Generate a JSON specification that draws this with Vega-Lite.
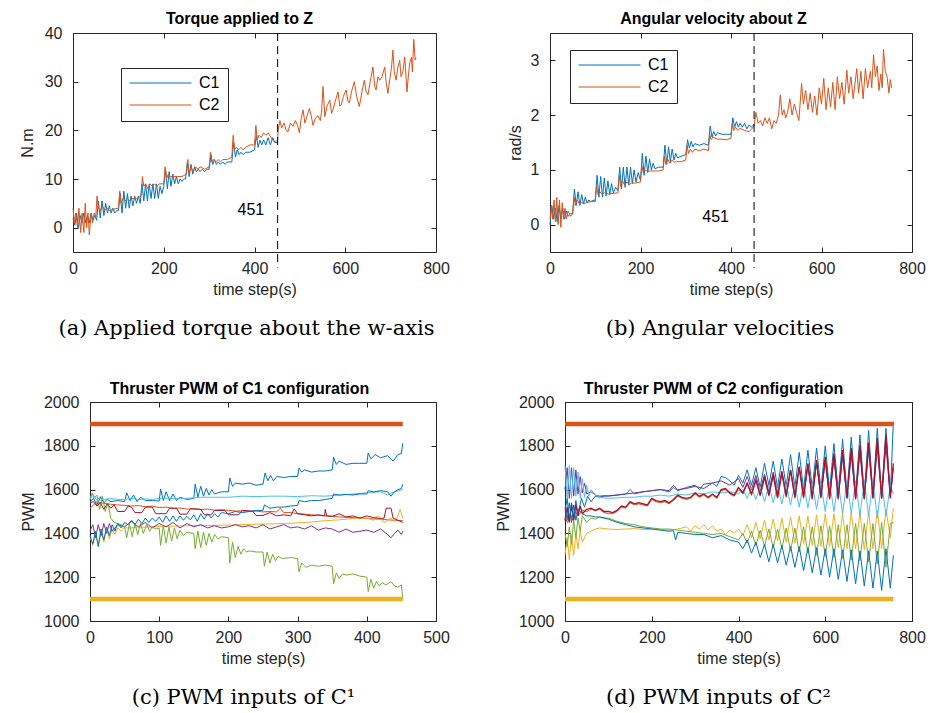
{
"$schema": "https://vega.github.io/schema/vega-lite/v6.json",
"background": "white",
"padding": {"left": 19, "top": 10, "right": 2, "bottom": 2},
"config": {
  "font": "Liberation Sans",
  "view": {"stroke": null},
  "axis": {"labelFont": "Liberation Sans", "labelFontSize": 16, "labelColor": "#262626", "titleFont": "Liberation Sans", "titleFontSize": 16, "titleFontWeight": "normal", "titleColor": "#262626", "domainColor": "#262626", "tickColor": "#262626", "tickSize": -5, "grid": false, "labelFlush": false, "labelOverlap": false},
  "axisX": {"labelPadding": 13, "titlePadding": 5},
  "axisY": {"labelPadding": 16, "titlePadding": 7},
  "title": {"font": "DejaVu Serif", "fontSize": 21, "fontWeight": "normal", "color": "black"}
},
"datasets": {
"a1": [{"t":0,"y":2},{"t":4,"y":0.5},{"t":8,"y":3},{"t":12,"y":0},{"t":16,"y":2.5},{"t":20,"y":1},{"t":24,"y":3},{"t":28,"y":1},{"t":32,"y":2.5},{"t":36,"y":1},{"t":40,"y":3},{"t":44,"y":1.5},{"t":48,"y":2.5},{"t":52,"y":1.5},{"t":56,"y":5.5},{"t":60,"y":2},{"t":64,"y":5.5},{"t":68,"y":2.5},{"t":72,"y":5},{"t":76,"y":3},{"t":80,"y":4.5},{"t":84,"y":3},{"t":88,"y":4},{"t":92,"y":3},{"t":96,"y":3.5},{"t":100,"y":3.5},{"t":104,"y":7},{"t":108,"y":3},{"t":112,"y":7.5},{"t":116,"y":4},{"t":120,"y":7},{"t":124,"y":4},{"t":128,"y":6.5},{"t":132,"y":4.5},{"t":136,"y":6.5},{"t":140,"y":5},{"t":144,"y":6.5},{"t":148,"y":5},{"t":152,"y":9},{"t":156,"y":5.5},{"t":160,"y":9},{"t":164,"y":5.5},{"t":168,"y":9},{"t":172,"y":6},{"t":176,"y":9},{"t":180,"y":6},{"t":184,"y":9},{"t":188,"y":6},{"t":192,"y":8.5},{"t":196,"y":7},{"t":200,"y":8.5},{"t":204,"y":12},{"t":208,"y":8},{"t":212,"y":11.5},{"t":216,"y":8.5},{"t":220,"y":11},{"t":224,"y":9},{"t":228,"y":10.5},{"t":232,"y":9},{"t":236,"y":10},{"t":240,"y":9.5},{"t":244,"y":10},{"t":248,"y":10},{"t":252,"y":13.5},{"t":256,"y":10.5},{"t":260,"y":13},{"t":264,"y":11},{"t":268,"y":12.5},{"t":272,"y":11.5},{"t":276,"y":12},{"t":280,"y":11.5},{"t":285,"y":12},{"t":290,"y":11.5},{"t":295,"y":12},{"t":300,"y":12},{"t":304,"y":15},{"t":308,"y":13},{"t":312,"y":14},{"t":316,"y":13},{"t":320,"y":13.5},{"t":325,"y":13},{"t":330,"y":13.5},{"t":335,"y":13},{"t":340,"y":13.5},{"t":350,"y":13.5},{"t":354,"y":17.5},{"t":358,"y":14.5},{"t":362,"y":16},{"t":366,"y":15},{"t":370,"y":15.5},{"t":375,"y":15},{"t":380,"y":15.5},{"t":390,"y":15.5},{"t":400,"y":16},{"t":404,"y":19},{"t":408,"y":16.5},{"t":412,"y":18},{"t":416,"y":17},{"t":420,"y":18},{"t":425,"y":17},{"t":430,"y":18.5},{"t":435,"y":17},{"t":440,"y":18.5},{"t":445,"y":17.5},{"t":451,"y":17.5}],
"a2": [{"t":0,"y":4},{"t":3,"y":1},{"t":6,"y":3},{"t":10,"y":0},{"t":13,"y":4},{"t":17,"y":-1},{"t":20,"y":3},{"t":24,"y":-1},{"t":27,"y":5},{"t":30,"y":0},{"t":33,"y":3},{"t":36,"y":-1.5},{"t":40,"y":3},{"t":43,"y":1},{"t":47,"y":3},{"t":50,"y":2},{"t":53,"y":6.5},{"t":56,"y":4},{"t":60,"y":3.5},{"t":65,"y":4.5},{"t":70,"y":3.5},{"t":75,"y":4},{"t":80,"y":3.5},{"t":90,"y":3.8},{"t":100,"y":4},{"t":103,"y":7.5},{"t":106,"y":5},{"t":110,"y":6},{"t":115,"y":5.5},{"t":120,"y":6},{"t":125,"y":5.5},{"t":130,"y":6},{"t":140,"y":6},{"t":150,"y":6.5},{"t":153,"y":10.5},{"t":156,"y":8.5},{"t":160,"y":9},{"t":165,"y":8},{"t":170,"y":9},{"t":175,"y":8.5},{"t":180,"y":9},{"t":185,"y":8.5},{"t":190,"y":9},{"t":200,"y":9},{"t":203,"y":12.5},{"t":206,"y":10},{"t":210,"y":11},{"t":215,"y":10.5},{"t":220,"y":10.5},{"t":230,"y":10.5},{"t":240,"y":10.5},{"t":250,"y":11},{"t":253,"y":14},{"t":256,"y":11},{"t":260,"y":12.5},{"t":265,"y":11.5},{"t":270,"y":12.5},{"t":275,"y":12},{"t":280,"y":12.5},{"t":290,"y":12},{"t":300,"y":12.5},{"t":303,"y":15.5},{"t":306,"y":13.5},{"t":310,"y":14},{"t":315,"y":13.5},{"t":320,"y":14},{"t":325,"y":13.5},{"t":330,"y":14},{"t":340,"y":14},{"t":350,"y":14.5},{"t":353,"y":19},{"t":356,"y":16},{"t":360,"y":16.5},{"t":365,"y":16},{"t":370,"y":16.5},{"t":375,"y":16},{"t":380,"y":16.5},{"t":390,"y":17},{"t":400,"y":17},{"t":403,"y":21},{"t":406,"y":18},{"t":410,"y":19},{"t":415,"y":18.5},{"t":420,"y":19.5},{"t":425,"y":19},{"t":430,"y":19.5},{"t":440,"y":18},{"t":445,"y":17.5},{"t":451,"y":18},{"t":452,"y":20},{"t":456,"y":22},{"t":460,"y":20.5},{"t":465,"y":21.5},{"t":470,"y":20},{"t":474,"y":19.7},{"t":479,"y":21.5},{"t":485,"y":20.8},{"t":490,"y":22},{"t":495,"y":21},{"t":499,"y":19.5},{"t":503,"y":22.5},{"t":507,"y":24.2},{"t":511,"y":21.5},{"t":516,"y":23},{"t":521,"y":24.5},{"t":525,"y":23},{"t":529,"y":21},{"t":534,"y":22.5},{"t":540,"y":23},{"t":545,"y":22},{"t":548,"y":24},{"t":551,"y":29},{"t":555,"y":22.8},{"t":560,"y":25},{"t":566,"y":26.2},{"t":570,"y":23.5},{"t":573,"y":24.2},{"t":578,"y":26},{"t":584,"y":27.9},{"t":588,"y":25},{"t":591,"y":25.2},{"t":596,"y":27},{"t":602,"y":28.3},{"t":606,"y":26},{"t":609,"y":25.6},{"t":614,"y":28},{"t":620,"y":30},{"t":625,"y":27},{"t":631,"y":24.9},{"t":637,"y":28},{"t":642,"y":30.3},{"t":646,"y":28},{"t":650,"y":27.3},{"t":655,"y":30},{"t":661,"y":33},{"t":665,"y":29},{"t":668,"y":28.3},{"t":672,"y":31},{"t":676,"y":30.3},{"t":681,"y":31},{"t":687,"y":33},{"t":690,"y":30},{"t":694,"y":27.6},{"t":699,"y":31},{"t":702,"y":33},{"t":705,"y":36.5},{"t":708,"y":32},{"t":712,"y":30.3},{"t":716,"y":33},{"t":720,"y":34.4},{"t":723,"y":31},{"t":727,"y":32},{"t":731,"y":35.1},{"t":734,"y":31},{"t":736,"y":27.9},{"t":739,"y":31},{"t":742,"y":33.8},{"t":746,"y":35},{"t":748,"y":32},{"t":751,"y":38.7},{"t":754,"y":34.5},{"t":756,"y":35}],
"av": [{"t":451,"y":40,"y2":-8.2}],
"b1": [{"t":0,"y":0},{"t":4,"y":0.35},{"t":8,"y":0.1},{"t":12,"y":0.3},{"t":16,"y":0.05},{"t":20,"y":0.35},{"t":24,"y":0.1},{"t":28,"y":0.3},{"t":32,"y":0.1},{"t":36,"y":0.25},{"t":40,"y":0.15},{"t":45,"y":0.2},{"t":50,"y":0.2},{"t":54,"y":0.65},{"t":58,"y":0.35},{"t":62,"y":0.6},{"t":66,"y":0.35},{"t":70,"y":0.55},{"t":74,"y":0.38},{"t":78,"y":0.5},{"t":82,"y":0.4},{"t":86,"y":0.45},{"t":90,"y":0.42},{"t":95,"y":0.44},{"t":100,"y":0.45},{"t":104,"y":0.9},{"t":108,"y":0.5},{"t":112,"y":0.88},{"t":116,"y":0.5},{"t":120,"y":0.85},{"t":124,"y":0.52},{"t":128,"y":0.8},{"t":132,"y":0.55},{"t":136,"y":0.75},{"t":140,"y":0.58},{"t":145,"y":0.68},{"t":150,"y":0.62},{"t":154,"y":1.05},{"t":158,"y":0.65},{"t":162,"y":1.05},{"t":166,"y":0.68},{"t":170,"y":1.05},{"t":174,"y":0.72},{"t":178,"y":1.05},{"t":182,"y":0.75},{"t":186,"y":1.0},{"t":190,"y":0.78},{"t":195,"y":0.95},{"t":200,"y":0.8},{"t":204,"y":1.3},{"t":208,"y":0.9},{"t":212,"y":1.25},{"t":216,"y":0.95},{"t":220,"y":1.2},{"t":224,"y":1.0},{"t":228,"y":1.12},{"t":232,"y":1.02},{"t":240,"y":1.05},{"t":250,"y":1.05},{"t":254,"y":1.45},{"t":258,"y":1.1},{"t":262,"y":1.42},{"t":266,"y":1.15},{"t":270,"y":1.38},{"t":274,"y":1.18},{"t":278,"y":1.3},{"t":282,"y":1.22},{"t":290,"y":1.25},{"t":300,"y":1.28},{"t":304,"y":1.55},{"t":308,"y":1.4},{"t":312,"y":1.52},{"t":316,"y":1.42},{"t":320,"y":1.48},{"t":330,"y":1.45},{"t":340,"y":1.48},{"t":350,"y":1.45},{"t":354,"y":1.8},{"t":358,"y":1.6},{"t":362,"y":1.7},{"t":366,"y":1.62},{"t":370,"y":1.68},{"t":380,"y":1.65},{"t":390,"y":1.65},{"t":400,"y":1.65},{"t":404,"y":1.95},{"t":408,"y":1.78},{"t":412,"y":1.88},{"t":416,"y":1.78},{"t":420,"y":1.85},{"t":425,"y":1.78},{"t":430,"y":1.85},{"t":435,"y":1.75},{"t":440,"y":1.82},{"t":445,"y":1.78},{"t":451,"y":1.83}],
"b2": [{"t":0,"y":0.1},{"t":3,"y":0.35},{"t":6,"y":0.1},{"t":9,"y":0.45},{"t":12,"y":0.05},{"t":15,"y":0.5},{"t":18,"y":0},{"t":21,"y":0.45},{"t":24,"y":-0.05},{"t":27,"y":0.4},{"t":30,"y":0.1},{"t":33,"y":0.3},{"t":36,"y":0.1},{"t":40,"y":0.25},{"t":45,"y":0.15},{"t":50,"y":0.2},{"t":53,"y":0.5},{"t":56,"y":0.35},{"t":60,"y":0.45},{"t":65,"y":0.38},{"t":70,"y":0.4},{"t":75,"y":0.38},{"t":80,"y":0.4},{"t":90,"y":0.42},{"t":100,"y":0.42},{"t":103,"y":0.7},{"t":106,"y":0.55},{"t":110,"y":0.6},{"t":115,"y":0.56},{"t":120,"y":0.58},{"t":130,"y":0.56},{"t":140,"y":0.57},{"t":150,"y":0.58},{"t":153,"y":0.9},{"t":156,"y":0.7},{"t":160,"y":0.8},{"t":165,"y":0.72},{"t":170,"y":0.78},{"t":175,"y":0.73},{"t":180,"y":0.76},{"t":190,"y":0.76},{"t":200,"y":0.78},{"t":203,"y":1.08},{"t":206,"y":0.95},{"t":210,"y":1.0},{"t":215,"y":0.97},{"t":220,"y":0.98},{"t":230,"y":0.98},{"t":240,"y":0.98},{"t":250,"y":1.0},{"t":253,"y":1.25},{"t":256,"y":1.1},{"t":260,"y":1.2},{"t":265,"y":1.12},{"t":270,"y":1.18},{"t":275,"y":1.14},{"t":280,"y":1.15},{"t":290,"y":1.15},{"t":300,"y":1.18},{"t":303,"y":1.45},{"t":306,"y":1.3},{"t":310,"y":1.38},{"t":315,"y":1.32},{"t":320,"y":1.38},{"t":330,"y":1.35},{"t":340,"y":1.38},{"t":350,"y":1.35},{"t":353,"y":1.65},{"t":356,"y":1.55},{"t":360,"y":1.6},{"t":370,"y":1.56},{"t":380,"y":1.56},{"t":390,"y":1.55},{"t":400,"y":1.58},{"t":403,"y":1.85},{"t":406,"y":1.72},{"t":410,"y":1.78},{"t":415,"y":1.72},{"t":420,"y":1.76},{"t":430,"y":1.72},{"t":440,"y":1.7},{"t":445,"y":1.74},{"t":451,"y":1.8},{"t":455,"y":2.05},{"t":460,"y":1.85},{"t":465,"y":1.9},{"t":470,"y":1.8},{"t":475,"y":1.95},{"t":480,"y":1.85},{"t":485,"y":1.95},{"t":490,"y":1.75},{"t":495,"y":1.9},{"t":500,"y":1.85},{"t":505,"y":2.0},{"t":509,"y":2.37},{"t":513,"y":2.0},{"t":517,"y":2.1},{"t":521,"y":1.95},{"t":525,"y":2.05},{"t":530,"y":2.3},{"t":535,"y":2.0},{"t":540,"y":2.2},{"t":545,"y":2.05},{"t":550,"y":1.9},{"t":556,"y":2.58},{"t":560,"y":2.2},{"t":565,"y":2.45},{"t":570,"y":2.1},{"t":575,"y":2.4},{"t":580,"y":2.05},{"t":585,"y":2.35},{"t":590,"y":2.0},{"t":595,"y":2.5},{"t":600,"y":2.2},{"t":605,"y":2.67},{"t":610,"y":2.1},{"t":615,"y":2.5},{"t":620,"y":2.15},{"t":625,"y":2.6},{"t":630,"y":2.1},{"t":635,"y":2.7},{"t":640,"y":2.3},{"t":645,"y":2.6},{"t":650,"y":2.2},{"t":656,"y":2.82},{"t":660,"y":2.4},{"t":665,"y":2.7},{"t":670,"y":2.3},{"t":678,"y":2.85},{"t":682,"y":2.4},{"t":687,"y":2.8},{"t":692,"y":2.3},{"t":697,"y":2.85},{"t":702,"y":2.5},{"t":708,"y":2.8},{"t":711,"y":2.5},{"t":715,"y":3.1},{"t":719,"y":2.7},{"t":723,"y":2.9},{"t":727,"y":2.45},{"t":731,"y":2.75},{"t":734,"y":2.5},{"t":737,"y":3.2},{"t":741,"y":2.8},{"t":745,"y":2.7},{"t":749,"y":2.4},{"t":752,"y":2.65},{"t":755,"y":2.5}],
"bv": [{"t":451,"y":3.5,"y2":-0.79}],
"c1": [{"t":0,"y":1545},{"t":5,"y":1560},{"t":10,"y":1530},{"t":15,"y":1565},{"t":20,"y":1540},{"t":25,"y":1555},{"t":30,"y":1545},{"t":40,"y":1550},{"t":50,"y":1545},{"t":53,"y":1585},{"t":58,"y":1550},{"t":63,"y":1575},{"t":68,"y":1545},{"t":73,"y":1565},{"t":80,"y":1550},{"t":90,"y":1550},{"t":100,"y":1548},{"t":102,"y":1603},{"t":106,"y":1550},{"t":110,"y":1590},{"t":115,"y":1550},{"t":120,"y":1580},{"t":125,"y":1550},{"t":130,"y":1565},{"t":140,"y":1555},{"t":150,"y":1560},{"t":152,"y":1625},{"t":156,"y":1565},{"t":160,"y":1615},{"t":164,"y":1570},{"t":168,"y":1605},{"t":172,"y":1575},{"t":176,"y":1600},{"t":180,"y":1580},{"t":190,"y":1590},{"t":200,"y":1590},{"t":202,"y":1653},{"t":206,"y":1615},{"t":210,"y":1630},{"t":220,"y":1625},{"t":230,"y":1630},{"t":240,"y":1620},{"t":250,"y":1625},{"t":253,"y":1676},{"t":257,"y":1640},{"t":261,"y":1665},{"t":265,"y":1640},{"t":270,"y":1660},{"t":280,"y":1655},{"t":290,"y":1660},{"t":300,"y":1660},{"t":302,"y":1698},{"t":306,"y":1680},{"t":310,"y":1690},{"t":320,"y":1680},{"t":330,"y":1685},{"t":340,"y":1685},{"t":350,"y":1690},{"t":352,"y":1748},{"t":356,"y":1715},{"t":360,"y":1730},{"t":370,"y":1715},{"t":380,"y":1720},{"t":390,"y":1720},{"t":400,"y":1720},{"t":402,"y":1767},{"t":406,"y":1740},{"t":412,"y":1760},{"t":420,"y":1745},{"t":430,"y":1755},{"t":438,"y":1730},{"t":445,"y":1760},{"t":450,"y":1765},{"t":452,"y":1812}],
"c2": [{"t":0,"y":1515},{"t":5,"y":1530},{"t":10,"y":1545},{"t":20,"y":1537},{"t":30,"y":1533},{"t":40,"y":1530},{"t":50,"y":1528},{"t":60,"y":1525},{"t":70,"y":1527},{"t":80,"y":1522},{"t":90,"y":1524},{"t":100,"y":1518},{"t":110,"y":1520},{"t":120,"y":1514},{"t":130,"y":1516},{"t":140,"y":1511},{"t":150,"y":1513},{"t":160,"y":1509},{"t":170,"y":1511},{"t":180,"y":1506},{"t":190,"y":1508},{"t":200,"y":1505},{"t":210,"y":1502},{"t":220,"y":1503},{"t":230,"y":1500},{"t":240,"y":1502},{"t":250,"y":1498},{"t":260,"y":1500},{"t":270,"y":1498},{"t":275,"y":1515},{"t":280,"y":1495},{"t":290,"y":1495},{"t":300,"y":1490},{"t":310,"y":1488},{"t":320,"y":1485},{"t":330,"y":1482},{"t":340,"y":1480},{"t":350,"y":1478},{"t":360,"y":1475},{"t":370,"y":1474},{"t":380,"y":1472},{"t":390,"y":1470},{"t":400,"y":1468},{"t":410,"y":1466},{"t":420,"y":1465},{"t":430,"y":1462},{"t":440,"y":1460},{"t":452,"y":1458}],
"c3": [{"t":0,"y":1380},{"t":4,"y":1350},{"t":8,"y":1400},{"t":12,"y":1345},{"t":16,"y":1410},{"t":20,"y":1360},{"t":24,"y":1420},{"t":28,"y":1375},{"t":32,"y":1420},{"t":36,"y":1395},{"t":40,"y":1425},{"t":45,"y":1410},{"t":50,"y":1425},{"t":60,"y":1425},{"t":70,"y":1430},{"t":80,"y":1428},{"t":100,"y":1432},{"t":120,"y":1433},{"t":140,"y":1435},{"t":160,"y":1436},{"t":180,"y":1437},{"t":200,"y":1438},{"t":220,"y":1440},{"t":240,"y":1442},{"t":260,"y":1443},{"t":280,"y":1445},{"t":300,"y":1448},{"t":320,"y":1452},{"t":340,"y":1458},{"t":360,"y":1462},{"t":380,"y":1468},{"t":390,"y":1470},{"t":400,"y":1470},{"t":410,"y":1460},{"t":415,"y":1480},{"t":420,"y":1470},{"t":425,"y":1450},{"t":430,"y":1460},{"t":435,"y":1470},{"t":440,"y":1455},{"t":445,"y":1480},{"t":448,"y":1510},{"t":452,"y":1470}],
"c4": [{"t":0,"y":1410},{"t":4,"y":1440},{"t":8,"y":1380},{"t":12,"y":1440},{"t":16,"y":1390},{"t":20,"y":1445},{"t":24,"y":1400},{"t":28,"y":1445},{"t":32,"y":1410},{"t":40,"y":1440},{"t":50,"y":1430},{"t":60,"y":1455},{"t":70,"y":1430},{"t":80,"y":1450},{"t":90,"y":1425},{"t":100,"y":1445},{"t":110,"y":1430},{"t":120,"y":1450},{"t":130,"y":1425},{"t":140,"y":1445},{"t":150,"y":1430},{"t":160,"y":1440},{"t":170,"y":1425},{"t":180,"y":1435},{"t":190,"y":1425},{"t":200,"y":1430},{"t":210,"y":1440},{"t":220,"y":1430},{"t":230,"y":1435},{"t":240,"y":1425},{"t":250,"y":1440},{"t":260,"y":1420},{"t":270,"y":1430},{"t":280,"y":1440},{"t":290,"y":1425},{"t":300,"y":1430},{"t":310,"y":1420},{"t":320,"y":1435},{"t":330,"y":1415},{"t":340,"y":1425},{"t":350,"y":1420},{"t":360,"y":1405},{"t":370,"y":1420},{"t":380,"y":1405},{"t":390,"y":1410},{"t":400,"y":1415},{"t":410,"y":1405},{"t":420,"y":1420},{"t":430,"y":1395},{"t":435,"y":1380},{"t":440,"y":1400},{"t":445,"y":1415},{"t":450,"y":1395},{"t":452,"y":1410}],
"c5": [{"t":0,"y":1555},{"t":3,"y":1585},{"t":6,"y":1560},{"t":10,"y":1575},{"t":14,"y":1510},{"t":18,"y":1570},{"t":22,"y":1500},{"t":26,"y":1540},{"t":30,"y":1470},{"t":35,"y":1450},{"t":40,"y":1445},{"t":45,"y":1440},{"t":50,"y":1430},{"t":53,"y":1380},{"t":57,"y":1445},{"t":61,"y":1385},{"t":65,"y":1445},{"t":69,"y":1395},{"t":73,"y":1445},{"t":77,"y":1400},{"t":82,"y":1440},{"t":86,"y":1410},{"t":90,"y":1430},{"t":95,"y":1420},{"t":100,"y":1425},{"t":102,"y":1345},{"t":106,"y":1435},{"t":110,"y":1355},{"t":114,"y":1430},{"t":118,"y":1365},{"t":122,"y":1425},{"t":126,"y":1375},{"t":130,"y":1415},{"t":135,"y":1390},{"t":140,"y":1405},{"t":150,"y":1400},{"t":152,"y":1330},{"t":156,"y":1410},{"t":160,"y":1335},{"t":164,"y":1405},{"t":168,"y":1345},{"t":172,"y":1400},{"t":176,"y":1360},{"t":180,"y":1395},{"t":185,"y":1375},{"t":190,"y":1385},{"t":200,"y":1380},{"t":202,"y":1265},{"t":206,"y":1360},{"t":210,"y":1290},{"t":214,"y":1340},{"t":218,"y":1305},{"t":222,"y":1330},{"t":226,"y":1315},{"t":230,"y":1320},{"t":240,"y":1315},{"t":250,"y":1315},{"t":252,"y":1250},{"t":256,"y":1315},{"t":260,"y":1265},{"t":264,"y":1305},{"t":268,"y":1275},{"t":272,"y":1295},{"t":278,"y":1285},{"t":290,"y":1290},{"t":300,"y":1285},{"t":302,"y":1225},{"t":306,"y":1265},{"t":312,"y":1245},{"t":320,"y":1255},{"t":330,"y":1250},{"t":340,"y":1255},{"t":350,"y":1250},{"t":352,"y":1170},{"t":356,"y":1220},{"t":360,"y":1195},{"t":365,"y":1215},{"t":370,"y":1210},{"t":380,"y":1215},{"t":390,"y":1205},{"t":400,"y":1200},{"t":402,"y":1135},{"t":406,"y":1190},{"t":410,"y":1150},{"t":414,"y":1180},{"t":418,"y":1160},{"t":422,"y":1175},{"t":428,"y":1165},{"t":435,"y":1180},{"t":440,"y":1160},{"t":445,"y":1155},{"t":450,"y":1165},{"t":452,"y":1100}],
"c6": [{"t":0,"y":1560},{"t":5,"y":1575},{"t":10,"y":1550},{"t":15,"y":1570},{"t":20,"y":1555},{"t":30,"y":1560},{"t":40,"y":1555},{"t":50,"y":1555},{"t":60,"y":1560},{"t":70,"y":1555},{"t":80,"y":1558},{"t":90,"y":1555},{"t":100,"y":1560},{"t":120,"y":1560},{"t":140,"y":1560},{"t":160,"y":1565},{"t":180,"y":1565},{"t":200,"y":1565},{"t":220,"y":1570},{"t":240,"y":1568},{"t":260,"y":1570},{"t":280,"y":1570},{"t":300,"y":1568},{"t":320,"y":1572},{"t":340,"y":1570},{"t":360,"y":1575},{"t":380,"y":1580},{"t":400,"y":1585},{"t":420,"y":1590},{"t":430,"y":1575},{"t":440,"y":1590},{"t":452,"y":1600}],
"c7": [{"t":0,"y":1540},{"t":5,"y":1545},{"t":10,"y":1525},{"t":15,"y":1540},{"t":20,"y":1510},{"t":25,"y":1535},{"t":30,"y":1515},{"t":35,"y":1530},{"t":40,"y":1500},{"t":50,"y":1500},{"t":55,"y":1525},{"t":60,"y":1520},{"t":65,"y":1495},{"t":75,"y":1495},{"t":80,"y":1520},{"t":90,"y":1520},{"t":95,"y":1490},{"t":110,"y":1490},{"t":115,"y":1515},{"t":125,"y":1515},{"t":130,"y":1488},{"t":140,"y":1488},{"t":145,"y":1512},{"t":160,"y":1510},{"t":165,"y":1485},{"t":175,"y":1485},{"t":180,"y":1505},{"t":195,"y":1505},{"t":200,"y":1485},{"t":215,"y":1485},{"t":220,"y":1505},{"t":235,"y":1502},{"t":240,"y":1482},{"t":250,"y":1482},{"t":260,"y":1495},{"t":270,"y":1480},{"t":280,"y":1485},{"t":290,"y":1480},{"t":295,"y":1512},{"t":300,"y":1490},{"t":310,"y":1485},{"t":320,"y":1480},{"t":330,"y":1485},{"t":339,"y":1480},{"t":340,"y":1510},{"t":342,"y":1480},{"t":350,"y":1478},{"t":360,"y":1490},{"t":370,"y":1475},{"t":380,"y":1480},{"t":390,"y":1470},{"t":400,"y":1480},{"t":410,"y":1472},{"t":420,"y":1468},{"t":425,"y":1470},{"t":428,"y":1515},{"t":435,"y":1515},{"t":438,"y":1470},{"t":445,"y":1460},{"t":452,"y":1450}],
"c8": [{"t":0,"y":1390},{"t":4,"y":1350},{"t":8,"y":1410},{"t":12,"y":1340},{"t":16,"y":1420},{"t":20,"y":1370},{"t":24,"y":1430},{"t":28,"y":1390},{"t":32,"y":1440},{"t":36,"y":1410},{"t":40,"y":1445},{"t":45,"y":1425},{"t":50,"y":1450},{"t":55,"y":1440},{"t":60,"y":1460},{"t":65,"y":1440},{"t":70,"y":1465},{"t":75,"y":1445},{"t":80,"y":1470},{"t":85,"y":1450},{"t":90,"y":1470},{"t":95,"y":1455},{"t":100,"y":1475},{"t":105,"y":1450},{"t":110,"y":1480},{"t":115,"y":1455},{"t":120,"y":1480},{"t":125,"y":1455},{"t":130,"y":1480},{"t":135,"y":1460},{"t":140,"y":1478},{"t":145,"y":1462},{"t":150,"y":1485},{"t":155,"y":1455},{"t":160,"y":1490},{"t":165,"y":1465},{"t":170,"y":1490},{"t":175,"y":1470},{"t":180,"y":1490},{"t":185,"y":1475},{"t":190,"y":1495},{"t":200,"y":1490},{"t":210,"y":1500},{"t":220,"y":1495},{"t":230,"y":1500},{"t":240,"y":1505},{"t":250,"y":1505},{"t":252,"y":1530},{"t":260,"y":1515},{"t":270,"y":1520},{"t":280,"y":1520},{"t":290,"y":1525},{"t":300,"y":1528},{"t":302,"y":1550},{"t":310,"y":1545},{"t":320,"y":1550},{"t":330,"y":1550},{"t":340,"y":1555},{"t":350,"y":1560},{"t":352,"y":1580},{"t":360,"y":1575},{"t":370,"y":1578},{"t":380,"y":1575},{"t":390,"y":1580},{"t":400,"y":1580},{"t":402,"y":1595},{"t":410,"y":1590},{"t":420,"y":1595},{"t":430,"y":1590},{"t":435,"y":1570},{"t":440,"y":1590},{"t":445,"y":1600},{"t":450,"y":1605},{"t":452,"y":1625}],
"cfo": [{"t":0,"y":1900},{"t":452,"y":1900}],
"cfy": [{"t":0,"y":1100},{"t":452,"y":1100}],
"d1": [{"t":0,"y":1500},{"t":5,"y":1560},{"t":10,"y":1460},{"t":15,"y":1540},{"t":20,"y":1470},{"t":25,"y":1550},{"t":30,"y":1490},{"t":38,"y":1560},{"t":45,"y":1520},{"t":52,"y":1570},{"t":60,"y":1545},{"t":70,"y":1570},{"t":80,"y":1565},{"t":90,"y":1570},{"t":100,"y":1572},{"t":120,"y":1575},{"t":140,"y":1580},{"t":150,"y":1600},{"t":160,"y":1580},{"t":180,"y":1590},{"t":200,"y":1595},{"t":220,"y":1600},{"t":240,"y":1590},{"t":250,"y":1610},{"t":260,"y":1595},{"t":280,"y":1610},{"t":300,"y":1620},{"t":310,"y":1600},{"t":320,"y":1625},{"t":340,"y":1630},{"t":350,"y":1615},{"t":360,"y":1660},{"t":370,"y":1655},{"t":380,"y":1640},{"t":390,"y":1620},{"t":400,"y":1665},{"t":410,"y":1630},{"t":420,"y":1690},{"t":430,"y":1620},{"t":440,"y":1700},{"t":450,"y":1610},{"t":460,"y":1720},{"t":470,"y":1620},{"t":480,"y":1730},{"t":490,"y":1610},{"t":500,"y":1740},{"t":510,"y":1615},{"t":520,"y":1760},{"t":530,"y":1610},{"t":540,"y":1770},{"t":550,"y":1600},{"t":560,"y":1780},{"t":570,"y":1605},{"t":580,"y":1790},{"t":590,"y":1600},{"t":600,"y":1800},{"t":610,"y":1595},{"t":620,"y":1810},{"t":630,"y":1590},{"t":640,"y":1830},{"t":650,"y":1585},{"t":660,"y":1840},{"t":670,"y":1580},{"t":680,"y":1850},{"t":690,"y":1575},{"t":700,"y":1870},{"t":710,"y":1570},{"t":720,"y":1880},{"t":730,"y":1565},{"t":740,"y":1880},{"t":750,"y":1570},{"t":757,"y":1910}],
"d2": [{"t":0,"y":1470},{"t":6,"y":1450},{"t":12,"y":1490},{"t":18,"y":1460},{"t":24,"y":1500},{"t":30,"y":1480},{"t":40,"y":1505},{"t":50,"y":1500},{"t":60,"y":1510},{"t":70,"y":1505},{"t":80,"y":1510},{"t":90,"y":1495},{"t":100,"y":1490},{"t":110,"y":1490},{"t":120,"y":1500},{"t":130,"y":1520},{"t":140,"y":1515},{"t":150,"y":1540},{"t":160,"y":1530},{"t":170,"y":1535},{"t":180,"y":1530},{"t":190,"y":1525},{"t":200,"y":1555},{"t":210,"y":1545},{"t":220,"y":1540},{"t":230,"y":1545},{"t":240,"y":1535},{"t":250,"y":1550},{"t":260,"y":1570},{"t":270,"y":1560},{"t":280,"y":1555},{"t":290,"y":1560},{"t":300,"y":1580},{"t":310,"y":1565},{"t":320,"y":1575},{"t":330,"y":1560},{"t":340,"y":1575},{"t":350,"y":1560},{"t":360,"y":1595},{"t":370,"y":1600},{"t":380,"y":1580},{"t":390,"y":1570},{"t":400,"y":1600},{"t":410,"y":1580},{"t":420,"y":1625},{"t":430,"y":1575},{"t":440,"y":1640},{"t":450,"y":1570},{"t":460,"y":1650},{"t":470,"y":1570},{"t":480,"y":1660},{"t":490,"y":1560},{"t":500,"y":1670},{"t":510,"y":1565},{"t":520,"y":1685},{"t":530,"y":1560},{"t":540,"y":1700},{"t":550,"y":1560},{"t":560,"y":1715},{"t":570,"y":1555},{"t":580,"y":1730},{"t":590,"y":1560},{"t":600,"y":1745},{"t":610,"y":1555},{"t":620,"y":1760},{"t":630,"y":1555},{"t":640,"y":1775},{"t":650,"y":1560},{"t":660,"y":1785},{"t":670,"y":1555},{"t":680,"y":1800},{"t":690,"y":1555},{"t":700,"y":1810},{"t":710,"y":1560},{"t":720,"y":1830},{"t":730,"y":1560},{"t":740,"y":1845},{"t":750,"y":1570},{"t":757,"y":1700}],
"d3": [{"t":0,"y":1300},{"t":5,"y":1380},{"t":10,"y":1280},{"t":15,"y":1390},{"t":20,"y":1300},{"t":25,"y":1400},{"t":30,"y":1330},{"t":35,"y":1410},{"t":40,"y":1360},{"t":50,"y":1400},{"t":60,"y":1410},{"t":70,"y":1420},{"t":80,"y":1425},{"t":90,"y":1422},{"t":100,"y":1420},{"t":120,"y":1418},{"t":140,"y":1420},{"t":160,"y":1422},{"t":180,"y":1418},{"t":200,"y":1420},{"t":220,"y":1418},{"t":240,"y":1415},{"t":260,"y":1420},{"t":280,"y":1430},{"t":290,"y":1410},{"t":300,"y":1435},{"t":310,"y":1420},{"t":320,"y":1440},{"t":330,"y":1415},{"t":340,"y":1435},{"t":350,"y":1410},{"t":360,"y":1420},{"t":370,"y":1395},{"t":380,"y":1415},{"t":390,"y":1400},{"t":400,"y":1420},{"t":410,"y":1390},{"t":420,"y":1440},{"t":430,"y":1380},{"t":440,"y":1450},{"t":450,"y":1375},{"t":460,"y":1460},{"t":470,"y":1370},{"t":480,"y":1465},{"t":490,"y":1365},{"t":500,"y":1470},{"t":510,"y":1360},{"t":520,"y":1475},{"t":530,"y":1355},{"t":540,"y":1480},{"t":550,"y":1350},{"t":560,"y":1480},{"t":570,"y":1345},{"t":580,"y":1485},{"t":590,"y":1340},{"t":600,"y":1490},{"t":610,"y":1340},{"t":620,"y":1490},{"t":630,"y":1335},{"t":640,"y":1490},{"t":650,"y":1330},{"t":660,"y":1495},{"t":670,"y":1330},{"t":680,"y":1495},{"t":690,"y":1325},{"t":700,"y":1500},{"t":710,"y":1330},{"t":720,"y":1505},{"t":730,"y":1330},{"t":740,"y":1510},{"t":750,"y":1380},{"t":757,"y":1515}],
"d4": [{"t":0,"y":1600},{"t":5,"y":1700},{"t":10,"y":1560},{"t":15,"y":1700},{"t":20,"y":1570},{"t":25,"y":1690},{"t":30,"y":1580},{"t":35,"y":1660},{"t":40,"y":1585},{"t":45,"y":1630},{"t":50,"y":1580},{"t":60,"y":1590},{"t":70,"y":1575},{"t":80,"y":1570},{"t":90,"y":1572},{"t":100,"y":1570},{"t":120,"y":1575},{"t":140,"y":1580},{"t":160,"y":1585},{"t":180,"y":1590},{"t":200,"y":1595},{"t":220,"y":1600},{"t":240,"y":1595},{"t":250,"y":1620},{"t":260,"y":1600},{"t":280,"y":1605},{"t":300,"y":1615},{"t":320,"y":1605},{"t":340,"y":1630},{"t":360,"y":1640},{"t":380,"y":1620},{"t":400,"y":1650},{"t":410,"y":1610},{"t":420,"y":1660},{"t":430,"y":1600},{"t":440,"y":1665},{"t":450,"y":1595},{"t":460,"y":1670},{"t":470,"y":1590},{"t":480,"y":1680},{"t":490,"y":1585},{"t":500,"y":1685},{"t":510,"y":1580},{"t":520,"y":1690},{"t":530,"y":1580},{"t":540,"y":1700},{"t":550,"y":1575},{"t":560,"y":1710},{"t":570,"y":1570},{"t":580,"y":1720},{"t":590,"y":1570},{"t":600,"y":1730},{"t":610,"y":1565},{"t":620,"y":1740},{"t":630,"y":1565},{"t":640,"y":1750},{"t":650,"y":1560},{"t":660,"y":1760},{"t":670,"y":1560},{"t":680,"y":1770},{"t":690,"y":1560},{"t":700,"y":1780},{"t":710,"y":1560},{"t":720,"y":1790},{"t":730,"y":1560},{"t":740,"y":1800},{"t":750,"y":1570},{"t":757,"y":1700}],
"d5": [{"t":0,"y":1400},{"t":5,"y":1340},{"t":10,"y":1430},{"t":15,"y":1350},{"t":20,"y":1460},{"t":25,"y":1380},{"t":30,"y":1470},{"t":35,"y":1410},{"t":40,"y":1480},{"t":50,"y":1450},{"t":60,"y":1470},{"t":70,"y":1465},{"t":80,"y":1475},{"t":90,"y":1470},{"t":100,"y":1470},{"t":120,"y":1455},{"t":140,"y":1445},{"t":160,"y":1440},{"t":180,"y":1430},{"t":200,"y":1425},{"t":220,"y":1420},{"t":240,"y":1420},{"t":260,"y":1415},{"t":280,"y":1410},{"t":300,"y":1405},{"t":320,"y":1400},{"t":340,"y":1395},{"t":360,"y":1400},{"t":380,"y":1385},{"t":400,"y":1370},{"t":410,"y":1400},{"t":420,"y":1355},{"t":430,"y":1410},{"t":440,"y":1345},{"t":450,"y":1415},{"t":460,"y":1340},{"t":470,"y":1420},{"t":480,"y":1335},{"t":490,"y":1420},{"t":500,"y":1330},{"t":510,"y":1425},{"t":520,"y":1320},{"t":530,"y":1425},{"t":540,"y":1315},{"t":550,"y":1430},{"t":560,"y":1310},{"t":570,"y":1430},{"t":580,"y":1300},{"t":590,"y":1435},{"t":600,"y":1295},{"t":610,"y":1435},{"t":620,"y":1290},{"t":630,"y":1440},{"t":640,"y":1285},{"t":650,"y":1440},{"t":660,"y":1280},{"t":670,"y":1445},{"t":680,"y":1275},{"t":690,"y":1445},{"t":700,"y":1270},{"t":710,"y":1445},{"t":720,"y":1260},{"t":730,"y":1450},{"t":740,"y":1245},{"t":750,"y":1445},{"t":757,"y":1450}],
"d6": [{"t":0,"y":1710},{"t":5,"y":1560},{"t":10,"y":1710},{"t":15,"y":1560},{"t":20,"y":1700},{"t":25,"y":1570},{"t":30,"y":1680},{"t":35,"y":1560},{"t":40,"y":1650},{"t":45,"y":1565},{"t":50,"y":1620},{"t":55,"y":1570},{"t":60,"y":1600},{"t":70,"y":1575},{"t":80,"y":1565},{"t":90,"y":1562},{"t":100,"y":1560},{"t":120,"y":1562},{"t":140,"y":1565},{"t":160,"y":1565},{"t":180,"y":1570},{"t":200,"y":1570},{"t":220,"y":1575},{"t":240,"y":1570},{"t":260,"y":1580},{"t":280,"y":1575},{"t":300,"y":1585},{"t":320,"y":1580},{"t":340,"y":1590},{"t":360,"y":1585},{"t":380,"y":1590},{"t":400,"y":1580},{"t":410,"y":1600},{"t":420,"y":1560},{"t":430,"y":1610},{"t":440,"y":1555},{"t":450,"y":1615},{"t":460,"y":1545},{"t":470,"y":1620},{"t":480,"y":1540},{"t":490,"y":1620},{"t":500,"y":1535},{"t":510,"y":1625},{"t":520,"y":1530},{"t":530,"y":1625},{"t":540,"y":1520},{"t":550,"y":1630},{"t":560,"y":1515},{"t":570,"y":1630},{"t":580,"y":1510},{"t":590,"y":1630},{"t":600,"y":1500},{"t":610,"y":1635},{"t":620,"y":1500},{"t":630,"y":1635},{"t":640,"y":1490},{"t":650,"y":1640},{"t":660,"y":1490},{"t":670,"y":1640},{"t":680,"y":1480},{"t":690,"y":1645},{"t":700,"y":1480},{"t":710,"y":1640},{"t":720,"y":1470},{"t":730,"y":1640},{"t":740,"y":1480},{"t":750,"y":1620},{"t":757,"y":1580}],
"d7": [{"t":0,"y":1460},{"t":5,"y":1520},{"t":10,"y":1450},{"t":15,"y":1530},{"t":20,"y":1460},{"t":25,"y":1530},{"t":30,"y":1480},{"t":35,"y":1525},{"t":40,"y":1490},{"t":50,"y":1510},{"t":60,"y":1515},{"t":70,"y":1505},{"t":80,"y":1515},{"t":90,"y":1500},{"t":100,"y":1500},{"t":110,"y":1495},{"t":120,"y":1505},{"t":130,"y":1525},{"t":140,"y":1520},{"t":150,"y":1545},{"t":160,"y":1535},{"t":170,"y":1540},{"t":180,"y":1535},{"t":190,"y":1530},{"t":200,"y":1560},{"t":210,"y":1550},{"t":220,"y":1545},{"t":230,"y":1550},{"t":240,"y":1540},{"t":250,"y":1555},{"t":260,"y":1575},{"t":270,"y":1565},{"t":280,"y":1560},{"t":290,"y":1565},{"t":300,"y":1585},{"t":310,"y":1570},{"t":320,"y":1580},{"t":330,"y":1565},{"t":340,"y":1580},{"t":350,"y":1565},{"t":360,"y":1600},{"t":370,"y":1605},{"t":380,"y":1585},{"t":390,"y":1575},{"t":400,"y":1610},{"t":410,"y":1585},{"t":420,"y":1630},{"t":430,"y":1580},{"t":440,"y":1645},{"t":450,"y":1575},{"t":460,"y":1660},{"t":470,"y":1575},{"t":480,"y":1670},{"t":490,"y":1565},{"t":500,"y":1680},{"t":510,"y":1570},{"t":520,"y":1690},{"t":530,"y":1565},{"t":540,"y":1705},{"t":550,"y":1565},{"t":560,"y":1720},{"t":570,"y":1560},{"t":580,"y":1735},{"t":590,"y":1565},{"t":600,"y":1750},{"t":610,"y":1560},{"t":620,"y":1765},{"t":630,"y":1560},{"t":640,"y":1780},{"t":650,"y":1565},{"t":660,"y":1790},{"t":670,"y":1560},{"t":680,"y":1805},{"t":690,"y":1560},{"t":700,"y":1815},{"t":710,"y":1565},{"t":720,"y":1835},{"t":730,"y":1560},{"t":740,"y":1850},{"t":750,"y":1560},{"t":757,"y":1720}],
"d8": [{"t":0,"y":1520},{"t":5,"y":1460},{"t":10,"y":1540},{"t":15,"y":1450},{"t":20,"y":1530},{"t":25,"y":1460},{"t":30,"y":1510},{"t":40,"y":1490},{"t":50,"y":1480},{"t":60,"y":1480},{"t":70,"y":1475},{"t":80,"y":1475},{"t":90,"y":1470},{"t":100,"y":1465},{"t":120,"y":1450},{"t":140,"y":1440},{"t":160,"y":1430},{"t":180,"y":1425},{"t":200,"y":1420},{"t":220,"y":1415},{"t":240,"y":1410},{"t":250,"y":1412},{"t":255,"y":1370},{"t":260,"y":1405},{"t":280,"y":1400},{"t":300,"y":1395},{"t":320,"y":1395},{"t":340,"y":1380},{"t":360,"y":1390},{"t":380,"y":1370},{"t":400,"y":1360},{"t":410,"y":1330},{"t":420,"y":1370},{"t":430,"y":1310},{"t":440,"y":1360},{"t":450,"y":1290},{"t":460,"y":1350},{"t":470,"y":1270},{"t":480,"y":1350},{"t":490,"y":1265},{"t":500,"y":1345},{"t":510,"y":1255},{"t":520,"y":1340},{"t":530,"y":1245},{"t":540,"y":1340},{"t":550,"y":1230},{"t":560,"y":1335},{"t":570,"y":1220},{"t":580,"y":1335},{"t":590,"y":1210},{"t":600,"y":1330},{"t":610,"y":1200},{"t":620,"y":1330},{"t":630,"y":1190},{"t":640,"y":1325},{"t":650,"y":1180},{"t":660,"y":1325},{"t":670,"y":1170},{"t":680,"y":1320},{"t":690,"y":1160},{"t":700,"y":1320},{"t":710,"y":1150},{"t":720,"y":1320},{"t":730,"y":1140},{"t":740,"y":1330},{"t":750,"y":1150},{"t":757,"y":1300}],
"dfo": [{"t":0,"y":1900},{"t":757,"y":1900}],
"dfy": [{"t":0,"y":1100},{"t":757,"y":1100}]
},
"concat": [
 {"hconcat": [
  {"width": 363, "height": 219,
   "title": {"text": "(a) Applied torque about the w-axis", "orient": "bottom", "frame": "group", "dx": -8, "offset": 21},
   "layer": [
    {"layer": [
     {"data": {"name": "a1"}, "mark": {"type": "line", "strokeWidth": 1},
      "encoding": {
       "x": {"field": "t", "type": "quantitative", "scale": {"domain": [0, 800], "nice": false}, "axis": {"values": [0, 200, 400, 600, 800], "title": "time step(s)"}},
       "y": {"field": "y", "type": "quantitative", "scale": {"domain": [-5, 40], "nice": false, "zero": false}, "axis": {"values": [0, 10, 20, 30, 40], "title": "N.m", "titlePadding": 9}},
       "color": {"datum": "C1", "scale": {"domain": ["C1", "C2"], "range": ["#0072BD", "#D95319"]},
        "legend": {"orient": "none", "legendX": 48, "legendY": 35, "title": null, "symbolType": "stroke", "symbolSize": 3844, "symbolStrokeWidth": 1, "clipHeight": 14, "rowPadding": 6, "padding": 8, "strokeColor": "#262626", "fillColor": "white", "labelFontSize": 16, "labelFont": "Liberation Sans", "labelColor": "black", "labelOffset": 7}}}},
     {"data": {"name": "a2"}, "mark": {"type": "line", "strokeWidth": 1},
      "encoding": {"x": {"field": "t", "type": "quantitative"}, "y": {"field": "y", "type": "quantitative"}, "color": {"datum": "C2"}}},
     {"data": {"name": "av"}, "mark": {"type": "rule", "strokeDash": [8, 5], "color": "black", "strokeWidth": 1},
      "encoding": {"x": {"field": "t", "type": "quantitative"}, "y": {"field": "y", "type": "quantitative"}, "y2": {"field": "y2"}}},
     {"data": {"name": "av"}, "mark": {"type": "text", "fontSize": 16, "font": "Liberation Sans", "color": "black"},
      "encoding": {"x": {"datum": 392}, "y": {"datum": 3.7}, "text": {"value": "451"}}}
    ]},
    {"data": {"values": []}, "mark": "point",
     "encoding": {
      "x": {"field": "t", "type": "quantitative", "axis": {"orient": "top", "values": [0, 200, 400, 600, 800], "labels": false, "title": "Torque applied to Z", "titleFontWeight": "bold", "titleColor": "black", "titleX": 166, "titleY": -10, "titleBaseline": "alphabetic", "titleAlign": "center"}},
      "y": {"field": "y", "type": "quantitative", "axis": {"orient": "right", "values": [0, 10, 20, 30, 40], "labels": false, "title": null}}}}
   ],
   "resolve": {"axis": {"x": "independent", "y": "independent"}}
  },
  {"width": 362, "height": 219,
   "title": {"text": "(b) Angular velocities", "orient": "bottom", "frame": "group", "dx": -11, "offset": 21},
   "layer": [
    {"layer": [
     {"data": {"name": "b1"}, "mark": {"type": "line", "strokeWidth": 1},
      "encoding": {
       "x": {"field": "t", "type": "quantitative", "scale": {"domain": [0, 800], "nice": false}, "axis": {"values": [0, 200, 400, 600, 800], "title": "time step(s)"}},
       "y": {"field": "y", "type": "quantitative", "scale": {"domain": [-0.5, 3.5], "nice": false, "zero": false}, "axis": {"values": [0, 1, 2, 3], "format": "d", "title": "rad/s"}},
       "color": {"datum": "C1", "scale": {"domain": ["C1", "C2"], "range": ["#0072BD", "#D95319"]},
        "legend": {"orient": "none", "legendX": 20, "legendY": 17, "title": null, "symbolType": "stroke", "symbolSize": 3844, "symbolStrokeWidth": 1, "clipHeight": 14, "rowPadding": 6, "padding": 8, "strokeColor": "#262626", "fillColor": "white", "labelFontSize": 16, "labelFont": "Liberation Sans", "labelColor": "black", "labelOffset": 7}}}},
     {"data": {"name": "b2"}, "mark": {"type": "line", "strokeWidth": 1},
      "encoding": {"x": {"field": "t", "type": "quantitative"}, "y": {"field": "y", "type": "quantitative"}, "color": {"datum": "C2"}}},
     {"data": {"name": "bv"}, "mark": {"type": "rule", "strokeDash": [8, 5], "color": "black", "strokeWidth": 1},
      "encoding": {"x": {"field": "t", "type": "quantitative"}, "y": {"field": "y", "type": "quantitative"}, "y2": {"field": "y2"}}},
     {"data": {"name": "bv"}, "mark": {"type": "text", "fontSize": 16, "font": "Liberation Sans", "color": "black"},
      "encoding": {"x": {"datum": 366}, "y": {"datum": 0.14}, "text": {"value": "451"}}}
    ]},
    {"data": {"values": []}, "mark": "point",
     "encoding": {
      "x": {"field": "t", "type": "quantitative", "axis": {"orient": "top", "values": [0, 200, 400, 600, 800], "labels": false, "title": "Angular velocity about Z", "titleFontWeight": "bold", "titleColor": "black", "titleX": 163, "titleY": -10, "titleBaseline": "alphabetic", "titleAlign": "center"}},
      "y": {"field": "y", "type": "quantitative", "axis": {"orient": "right", "values": [0, 1, 2, 3], "labels": false, "title": null}}}}
   ],
   "resolve": {"axis": {"x": "independent", "y": "independent"}}
  }
 ], "spacing": 57, "resolve": {"scale": {"color": "independent"}}},
 {"hconcat": [
  {"width": 363, "height": 219,
   "title": {"text": "(c) PWM inputs of C¹", "orient": "bottom", "frame": "group", "dx": -11, "offset": 21},
   "layer": [
    {"layer": [
     {"data": {"name": "c1"}, "mark": {"type": "line", "strokeWidth": 1, "color": "#0072BD"},
      "encoding": {
       "x": {"field": "t", "type": "quantitative", "scale": {"domain": [0, 500], "nice": false, "range": [17, 363]}, "axis": {"values": [0, 100, 200, 300, 400, 500], "title": "time step(s)"}},
       "y": {"field": "y", "type": "quantitative", "scale": {"domain": [1000, 2000], "nice": false, "zero": false}, "axis": {"values": [1000, 1200, 1400, 1600, 1800, 2000], "format": "d", "title": "PWM", "offset": -17}}}},
     {"data": {"name": "c2"}, "mark": {"type": "line", "strokeWidth": 1, "color": "#D95319"}, "encoding": {"x": {"field": "t", "type": "quantitative"}, "y": {"field": "y", "type": "quantitative"}}},
     {"data": {"name": "c3"}, "mark": {"type": "line", "strokeWidth": 1, "color": "#EDB120"}, "encoding": {"x": {"field": "t", "type": "quantitative"}, "y": {"field": "y", "type": "quantitative"}}},
     {"data": {"name": "c4"}, "mark": {"type": "line", "strokeWidth": 1, "color": "#7E2F8E"}, "encoding": {"x": {"field": "t", "type": "quantitative"}, "y": {"field": "y", "type": "quantitative"}}},
     {"data": {"name": "c5"}, "mark": {"type": "line", "strokeWidth": 1, "color": "#77AC30"}, "encoding": {"x": {"field": "t", "type": "quantitative"}, "y": {"field": "y", "type": "quantitative"}}},
     {"data": {"name": "c6"}, "mark": {"type": "line", "strokeWidth": 1, "color": "#4DBEEE"}, "encoding": {"x": {"field": "t", "type": "quantitative"}, "y": {"field": "y", "type": "quantitative"}}},
     {"data": {"name": "c7"}, "mark": {"type": "line", "strokeWidth": 1, "color": "#A2142F"}, "encoding": {"x": {"field": "t", "type": "quantitative"}, "y": {"field": "y", "type": "quantitative"}}},
     {"data": {"name": "c8"}, "mark": {"type": "line", "strokeWidth": 1, "color": "#0072BD"}, "encoding": {"x": {"field": "t", "type": "quantitative"}, "y": {"field": "y", "type": "quantitative"}}},
     {"data": {"name": "cfo"}, "mark": {"type": "line", "strokeWidth": 4.5, "color": "#D95319"}, "encoding": {"x": {"field": "t", "type": "quantitative"}, "y": {"field": "y", "type": "quantitative"}}},
     {"data": {"name": "cfy"}, "mark": {"type": "line", "strokeWidth": 4.5, "color": "#EDB120"}, "encoding": {"x": {"field": "t", "type": "quantitative"}, "y": {"field": "y", "type": "quantitative"}}}
    ]},
    {"data": {"values": []}, "mark": "point",
     "encoding": {
      "x": {"field": "t", "type": "quantitative", "axis": {"orient": "top", "values": [0, 100, 200, 300, 400, 500], "labels": false, "title": "Thruster PWM of C1 configuration", "titleFontWeight": "bold", "titleColor": "black", "titleX": 166, "titleY": -9, "titleBaseline": "alphabetic", "titleAlign": "center"}},
      "y": {"field": "y", "type": "quantitative", "axis": {"orient": "right", "values": [1000, 1200, 1400, 1600, 1800, 2000], "labels": false, "title": null}}}}
   ],
   "resolve": {"axis": {"x": "independent", "y": "independent"}}
  },
  {"width": 347, "height": 219,
   "title": {"text": "(d) PWM inputs of C²", "orient": "bottom", "frame": "group", "dx": -20, "offset": 21},
   "layer": [
    {"layer": [
     {"data": {"name": "d1"}, "mark": {"type": "line", "strokeWidth": 1, "color": "#0072BD"},
      "encoding": {
       "x": {"field": "t", "type": "quantitative", "scale": {"domain": [0, 800], "nice": false}, "axis": {"values": [0, 200, 400, 600, 800], "title": "time step(s)"}},
       "y": {"field": "y", "type": "quantitative", "scale": {"domain": [1000, 2000], "nice": false, "zero": false}, "axis": {"values": [1000, 1200, 1400, 1600, 1800, 2000], "format": "d", "title": "PWM"}}}},
     {"data": {"name": "d2"}, "mark": {"type": "line", "strokeWidth": 1, "color": "#D95319"}, "encoding": {"x": {"field": "t", "type": "quantitative"}, "y": {"field": "y", "type": "quantitative"}}},
     {"data": {"name": "d3"}, "mark": {"type": "line", "strokeWidth": 1, "color": "#EDB120"}, "encoding": {"x": {"field": "t", "type": "quantitative"}, "y": {"field": "y", "type": "quantitative"}}},
     {"data": {"name": "d4"}, "mark": {"type": "line", "strokeWidth": 1, "color": "#7E2F8E"}, "encoding": {"x": {"field": "t", "type": "quantitative"}, "y": {"field": "y", "type": "quantitative"}}},
     {"data": {"name": "d5"}, "mark": {"type": "line", "strokeWidth": 1, "color": "#77AC30"}, "encoding": {"x": {"field": "t", "type": "quantitative"}, "y": {"field": "y", "type": "quantitative"}}},
     {"data": {"name": "d6"}, "mark": {"type": "line", "strokeWidth": 1, "color": "#4DBEEE"}, "encoding": {"x": {"field": "t", "type": "quantitative"}, "y": {"field": "y", "type": "quantitative"}}},
     {"data": {"name": "d7"}, "mark": {"type": "line", "strokeWidth": 1.3, "color": "#A2142F"}, "encoding": {"x": {"field": "t", "type": "quantitative"}, "y": {"field": "y", "type": "quantitative"}}},
     {"data": {"name": "d8"}, "mark": {"type": "line", "strokeWidth": 1, "color": "#0072BD"}, "encoding": {"x": {"field": "t", "type": "quantitative"}, "y": {"field": "y", "type": "quantitative"}}},
     {"data": {"name": "dfo"}, "mark": {"type": "line", "strokeWidth": 4.5, "color": "#D95319"}, "encoding": {"x": {"field": "t", "type": "quantitative"}, "y": {"field": "y", "type": "quantitative"}}},
     {"data": {"name": "dfy"}, "mark": {"type": "line", "strokeWidth": 4.5, "color": "#EDB120"}, "encoding": {"x": {"field": "t", "type": "quantitative"}, "y": {"field": "y", "type": "quantitative"}}}
    ]},
    {"data": {"values": []}, "mark": "point",
     "encoding": {
      "x": {"field": "t", "type": "quantitative", "axis": {"orient": "top", "values": [0, 200, 400, 600, 800], "labels": false, "title": "Thruster PWM of C2 configuration", "titleFontWeight": "bold", "titleColor": "black", "titleX": 148, "titleY": -9, "titleBaseline": "alphabetic", "titleAlign": "center"}},
      "y": {"field": "y", "type": "quantitative", "axis": {"orient": "right", "values": [1000, 1200, 1400, 1600, 1800, 2000], "labels": false, "title": null}}}}
   ],
   "resolve": {"axis": {"x": "independent", "y": "independent"}}
  }
 ], "spacing": 45}
],
"columns": 1,
"spacing": 41
}
